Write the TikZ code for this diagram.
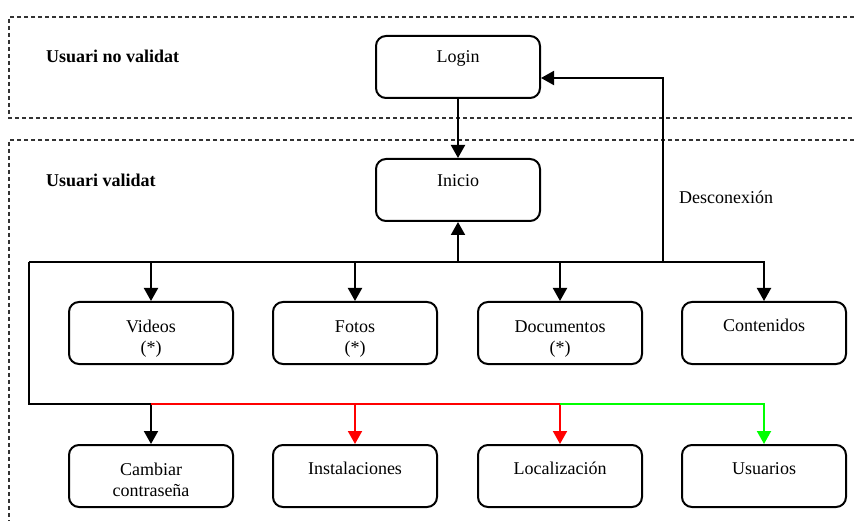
\documentclass[tikz,border=0pt]{standalone}
\usepackage{fontspec}
\setmainfont{Liberation Serif}
\usetikzlibrary{arrows.meta}
\begin{document}
\begin{tikzpicture}[x=1pt,y=-1pt,
  every node/.style={font=\fontsize{18}{21}\selectfont},
  box/.style={draw, line width=2pt, rounded corners=10pt,
    minimum width=164pt, minimum height=62pt, inner sep=0pt},
  txt/.style={anchor=base, inner sep=0pt, align=center},
  title/.style={anchor=base west, inner sep=0pt, font=\fontsize{18}{21}\selectfont\bfseries},
  zone/.style={dashed, dash pattern=on 4pt off 3pt, line width=1.1pt, black!80},
  conn/.style={line width=2pt},
  arr/.style={conn, -{Triangle[width=14pt,length=13pt]}}]
\useasboundingbox (0,0) rectangle (854,521);

% zones
\draw[zone] (854,17) -- (9,17) -- (9,118) -- (854,118);
\draw[zone] (854,140) -- (9,140) -- (9,521);
\node[title] (t1) at (46,63) {Usuari no validat};
\node[title] (t2) at (46,187) {Usuari validat};

% boxes
\node[box] (login) at (458,67) {};
\node[box] (inicio) at (458,190) {};
\node[box] (videos) at (151,333) {};
\node[box] (fotos) at (355,333) {};
\node[box] (docs) at (560,333) {};
\node[box] (cont) at (764,333) {};
\node[box] (camb) at (151,476) {};
\node[box] (inst) at (355,476) {};
\node[box] (loc) at (560,476) {};
\node[box] (usu) at (764,476) {};

% labels inside boxes (two-line labels sit on the baseline of their last line)
\node[txt] (loginT) at ([yshift=-28pt]login.north) {Login};
\node[txt] (inicioT) at ([yshift=-29pt]inicio.north) {Inicio};
\node[txt] (videosT) at ([yshift=-52pt]videos.north) {Videos\\(*)};
\node[txt] (fotosT) at ([yshift=-52pt]fotos.north) {Fotos\\(*)};
\node[txt] (docsT) at ([yshift=-52pt]docs.north) {Documentos\\(*)};
\node[txt] (contT) at ([yshift=-30pt]cont.north) {Contenidos};
\node[txt] (cambT) at ([yshift=-52pt]camb.north) {Cambiar\\contraseña};
\node[txt] (instT) at ([yshift=-30pt]inst.north) {Instalaciones};
\node[txt] (locT) at ([yshift=-30pt]loc.north) {Localización};
\node[txt] (usuT) at ([yshift=-30pt]usu.north) {Usuarios};
\node[txt, anchor=base west] (desc) at (679,204) {Desconexión};

% bus coordinates
\coordinate (busL) at (29,262);
\coordinate (low) at (29,404);
\coordinate (dsc) at (663,262);

% connectors
\draw[arr] (login.south) -- (inicio.north);
\draw[arr] (busL) -| (cont.north);
\draw[arr] (videos.north |- busL) -- (videos.north);
\draw[arr] (fotos.north |- busL) -- (fotos.north);
\draw[arr] (docs.north |- busL) -- (docs.north);
\draw[arr] (inicio.south |- busL) -- (inicio.south);
\draw[arr] (dsc) |- ([yshift=-11pt]login.east);

\draw[conn] (busL) -- (low) -- (camb.north |- low);
\draw[arr] (camb.north |- low) -- (camb.north);
\draw[conn, red] (camb.north |- low) -- (loc.north |- low);
\draw[arr, red] (inst.north |- low) -- (inst.north);
\draw[arr, red] (loc.north |- low) -- (loc.north);
\draw[arr, green] (loc.north |- low) -| (usu.north);
\end{tikzpicture}
\end{document}
